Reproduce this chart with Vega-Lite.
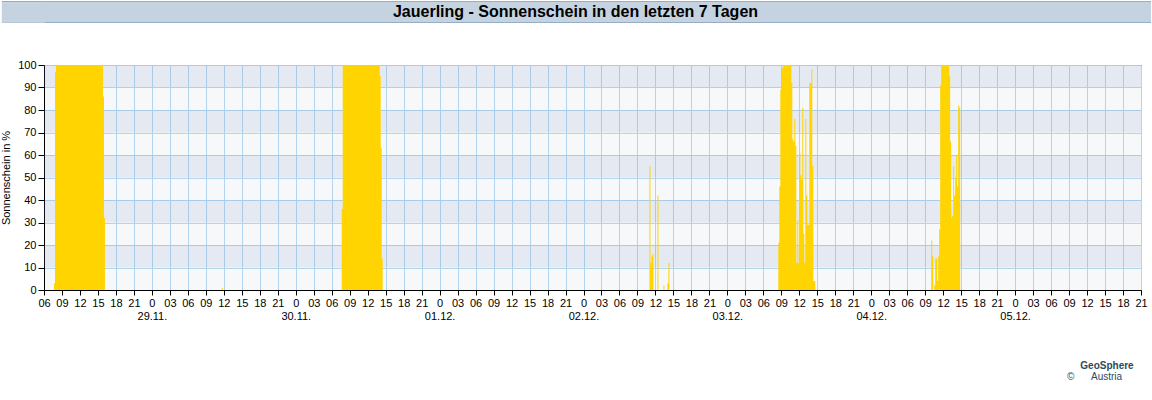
{
  "$schema": "https://vega.github.io/schema/vega-lite/v6.json",
  "padding": 0,
  "background": "white",
  "config": {"font": "Liberation Sans"},
  "spacing": 35,
  "vconcat": [
    {
      "width": 1107,
      "height": 21,
      "view": {"fill": "#c5d3e1", "stroke": null},
      "data": {"values": [{"label": "Jauerling - Sonnenschein in den letzten 7 Tagen"}]},
      "mark": {"type": "text", "fontSize": 16, "fontWeight": "bold", "color": "#000000", "baseline": "middle", "align": "center", "dx": -22},
      "encoding": {
        "text": {"field": "label", "type": "nominal"},
        "y": {"datum": 0.5, "type": "quantitative", "scale": {"domain": [0, 1], "nice": false, "zero": false},
          "axis": {"title": null, "values": [0.05, 0.15, 0.25, 0.35, 0.45, 0.55, 0.65, 0.75, 0.85, 0.95, 0, 1], "labels": false, "domain": false,
            "tickSize": 42.7, "tickRound": false, "tickOpacity": 1,
            "tickColor": {"condition": {"test": "datum.value == 0 || datum.value == 1", "value": "#97adc5"}, "value": "#c5d3e1"},
            "tickWidth": {"condition": {"test": "datum.value == 0 || datum.value == 1", "value": 1}, "value": 2.6},
            "grid": true, "gridOpacity": 1, "gridWidth": 1,
            "gridColor": {"condition": {"test": "datum.value == 0 || datum.value == 1", "value": "#97adc5"}, "value": "#c5d3e1"}}}
      }
    },
    {
      "width": 1097,
      "height": 225,
      "view": {"fill": "#f6f8fa", "stroke": "#000000", "strokeWidth": 1},
      "title": {
        "text": "GeoSphere",
        "subtitle": "©\u00a0\u00a0\u00a0\u00a0\u00a0\u00a0Austria\u00a0\u00a0\u00a0\u00a0\u00a0\u00a0\u00a0\u00a0\u00a0\u200b",
        "orient": "bottom",
        "anchor": "end",
        "frame": "group",
        "align": "center",
        "offset": 40,
        "dx": -34,
        "fontSize": 10,
        "fontWeight": "bold",
        "color": "#2c4a5a",
        "subtitleFontSize": 10,
        "subtitleColor": "#2c4a5a",
        "subtitlePadding": 1
      },
      "layer": [
        {
          "data": {"values": [{"lo":10,"hi":20},{"lo":30,"hi":40},{"lo":50,"hi":60},{"lo":70,"hi":80},{"lo":90,"hi":100}]},
          "mark": {"type": "rect", "color": "#6c86b8", "opacity": 0.12},
          "encoding": {
            "y": {"field": "lo", "type": "quantitative", "scale": {"domain": [0, 100], "nice": false},
              "axis": {"title": "Sonnenschein in %", "values": [0,10,20,30,40,50,60,70,80,90,100], "grid": true, "gridColor": "#b3d5ef", "gridOpacity": 1, "domainColor": "#000000", "tickColor": "#000000", "tickSize": 6, "labelFontSize": 11, "labelColor": "#000000", "labelPadding": 2, "titleFontSize": 11, "titleFontWeight": "normal", "titleColor": "#000000", "titlePadding": 6}},
            "y2": {"field": "hi"}
          }
        },
        {
          "data": {"values": [
          {"t":"2024-11-28T06:00Z","v":0},
          {"t":"2024-11-28T07:40Z","v":3},
          {"t":"2024-11-28T07:50Z","v":97},
          {"t":"2024-11-28T08:00Z","v":100},{"t":"2024-11-28T08:10Z","v":100},{"t":"2024-11-28T08:20Z","v":100},{"t":"2024-11-28T08:30Z","v":100},{"t":"2024-11-28T08:40Z","v":100},{"t":"2024-11-28T08:50Z","v":100},
          {"t":"2024-11-28T09:00Z","v":100},{"t":"2024-11-28T09:10Z","v":100},{"t":"2024-11-28T09:20Z","v":100},{"t":"2024-11-28T09:30Z","v":100},{"t":"2024-11-28T09:40Z","v":100},{"t":"2024-11-28T09:50Z","v":100},
          {"t":"2024-11-28T10:00Z","v":100},{"t":"2024-11-28T10:10Z","v":100},{"t":"2024-11-28T10:20Z","v":100},{"t":"2024-11-28T10:30Z","v":100},{"t":"2024-11-28T10:40Z","v":100},{"t":"2024-11-28T10:50Z","v":100},
          {"t":"2024-11-28T11:00Z","v":100},{"t":"2024-11-28T11:10Z","v":100},{"t":"2024-11-28T11:20Z","v":100},{"t":"2024-11-28T11:30Z","v":100},{"t":"2024-11-28T11:40Z","v":100},{"t":"2024-11-28T11:50Z","v":100},
          {"t":"2024-11-28T12:00Z","v":100},{"t":"2024-11-28T12:10Z","v":100},{"t":"2024-11-28T12:20Z","v":100},{"t":"2024-11-28T12:30Z","v":100},{"t":"2024-11-28T12:40Z","v":100},{"t":"2024-11-28T12:50Z","v":100},
          {"t":"2024-11-28T13:00Z","v":100},{"t":"2024-11-28T13:10Z","v":100},{"t":"2024-11-28T13:20Z","v":100},{"t":"2024-11-28T13:30Z","v":100},{"t":"2024-11-28T13:40Z","v":100},{"t":"2024-11-28T13:50Z","v":100},
          {"t":"2024-11-28T14:00Z","v":100},{"t":"2024-11-28T14:10Z","v":100},{"t":"2024-11-28T14:20Z","v":100},{"t":"2024-11-28T14:30Z","v":100},{"t":"2024-11-28T14:40Z","v":100},{"t":"2024-11-28T14:50Z","v":100},
          {"t":"2024-11-28T15:00Z","v":100},{"t":"2024-11-28T15:10Z","v":100},{"t":"2024-11-28T15:20Z","v":100},{"t":"2024-11-28T15:30Z","v":100},{"t":"2024-11-28T15:40Z","v":100},
          {"t":"2024-11-28T15:50Z","v":86},
          {"t":"2024-11-28T16:00Z","v":32},
          {"t":"2024-11-28T16:10Z","v":0},
          {"t":"2024-11-29T11:40Z","v":1},
          {"t":"2024-11-29T11:50Z","v":0},
          {"t":"2024-11-30T07:40Z","v":36},
          {"t":"2024-11-30T07:50Z","v":100},
          {"t":"2024-11-30T08:00Z","v":100},{"t":"2024-11-30T08:10Z","v":100},{"t":"2024-11-30T08:20Z","v":100},{"t":"2024-11-30T08:30Z","v":100},{"t":"2024-11-30T08:40Z","v":100},{"t":"2024-11-30T08:50Z","v":100},
          {"t":"2024-11-30T09:00Z","v":100},{"t":"2024-11-30T09:10Z","v":100},{"t":"2024-11-30T09:20Z","v":100},{"t":"2024-11-30T09:30Z","v":100},{"t":"2024-11-30T09:40Z","v":100},{"t":"2024-11-30T09:50Z","v":100},
          {"t":"2024-11-30T10:00Z","v":100},{"t":"2024-11-30T10:10Z","v":100},{"t":"2024-11-30T10:20Z","v":100},{"t":"2024-11-30T10:30Z","v":100},{"t":"2024-11-30T10:40Z","v":100},{"t":"2024-11-30T10:50Z","v":100},
          {"t":"2024-11-30T11:00Z","v":100},{"t":"2024-11-30T11:10Z","v":100},{"t":"2024-11-30T11:20Z","v":100},{"t":"2024-11-30T11:30Z","v":100},{"t":"2024-11-30T11:40Z","v":100},{"t":"2024-11-30T11:50Z","v":100},
          {"t":"2024-11-30T12:00Z","v":100},{"t":"2024-11-30T12:10Z","v":100},{"t":"2024-11-30T12:20Z","v":100},{"t":"2024-11-30T12:30Z","v":100},{"t":"2024-11-30T12:40Z","v":100},{"t":"2024-11-30T12:50Z","v":100},
          {"t":"2024-11-30T13:00Z","v":100},{"t":"2024-11-30T13:10Z","v":100},{"t":"2024-11-30T13:20Z","v":100},{"t":"2024-11-30T13:30Z","v":100},{"t":"2024-11-30T13:40Z","v":100},{"t":"2024-11-30T13:50Z","v":100},
          {"t":"2024-11-30T14:00Z","v":95},
          {"t":"2024-11-30T14:10Z","v":63},
          {"t":"2024-11-30T14:20Z","v":14},
          {"t":"2024-11-30T14:30Z","v":0},
          {"t":"2024-12-02T11:00Z","v":55},
          {"t":"2024-12-02T11:10Z","v":12},
          {"t":"2024-12-02T11:20Z","v":15},
          {"t":"2024-12-02T11:30Z","v":16},
          {"t":"2024-12-02T11:40Z","v":0},
          {"t":"2024-12-02T12:20Z","v":42},
          {"t":"2024-12-02T12:30Z","v":0},
          {"t":"2024-12-02T13:20Z","v":2},
          {"t":"2024-12-02T13:30Z","v":0},
          {"t":"2024-12-02T14:00Z","v":3},
          {"t":"2024-12-02T14:10Z","v":12},
          {"t":"2024-12-02T14:20Z","v":0},
          {"t":"2024-12-03T08:30Z","v":21},
          {"t":"2024-12-03T08:40Z","v":46},
          {"t":"2024-12-03T08:50Z","v":89},
          {"t":"2024-12-03T09:00Z","v":98},
          {"t":"2024-12-03T09:10Z","v":99},
          {"t":"2024-12-03T09:20Z","v":100},{"t":"2024-12-03T09:30Z","v":100},{"t":"2024-12-03T09:40Z","v":100},{"t":"2024-12-03T09:50Z","v":100},
          {"t":"2024-12-03T10:00Z","v":100},{"t":"2024-12-03T10:10Z","v":100},{"t":"2024-12-03T10:20Z","v":100},{"t":"2024-12-03T10:30Z","v":100},
          {"t":"2024-12-03T10:40Z","v":92},
          {"t":"2024-12-03T10:50Z","v":67},
          {"t":"2024-12-03T11:00Z","v":66},
          {"t":"2024-12-03T11:10Z","v":76},
          {"t":"2024-12-03T11:20Z","v":64},
          {"t":"2024-12-03T11:30Z","v":12},
          {"t":"2024-12-03T11:40Z","v":31},
          {"t":"2024-12-03T11:50Z","v":12},
          {"t":"2024-12-03T12:00Z","v":61},
          {"t":"2024-12-03T12:10Z","v":51},
          {"t":"2024-12-03T12:20Z","v":49},
          {"t":"2024-12-03T12:30Z","v":81},
          {"t":"2024-12-03T12:40Z","v":25},
          {"t":"2024-12-03T12:50Z","v":12},
          {"t":"2024-12-03T13:00Z","v":76},
          {"t":"2024-12-03T13:10Z","v":42},
          {"t":"2024-12-03T13:20Z","v":29},
          {"t":"2024-12-03T13:30Z","v":29},
          {"t":"2024-12-03T13:40Z","v":92},
          {"t":"2024-12-03T13:50Z","v":92},
          {"t":"2024-12-03T14:00Z","v":98},
          {"t":"2024-12-03T14:10Z","v":55},
          {"t":"2024-12-03T14:20Z","v":4},
          {"t":"2024-12-03T14:30Z","v":4},
          {"t":"2024-12-03T14:40Z","v":0},
          {"t":"2024-12-04T10:00Z","v":22},
          {"t":"2024-12-04T10:10Z","v":15},
          {"t":"2024-12-04T10:20Z","v":0},
          {"t":"2024-12-04T10:30Z","v":2},
          {"t":"2024-12-04T10:40Z","v":14},
          {"t":"2024-12-04T10:50Z","v":14},
          {"t":"2024-12-04T11:00Z","v":4},
          {"t":"2024-12-04T11:10Z","v":15},
          {"t":"2024-12-04T11:20Z","v":27},
          {"t":"2024-12-04T11:30Z","v":91},
          {"t":"2024-12-04T11:40Z","v":100},{"t":"2024-12-04T11:50Z","v":100},{"t":"2024-12-04T12:00Z","v":100},{"t":"2024-12-04T12:10Z","v":100},
          {"t":"2024-12-04T12:20Z","v":100},{"t":"2024-12-04T12:30Z","v":100},{"t":"2024-12-04T12:40Z","v":100},{"t":"2024-12-04T12:50Z","v":100},
          {"t":"2024-12-04T13:00Z","v":95},
          {"t":"2024-12-04T13:10Z","v":66},
          {"t":"2024-12-04T13:20Z","v":32},
          {"t":"2024-12-04T13:30Z","v":33},
          {"t":"2024-12-04T13:40Z","v":55},
          {"t":"2024-12-04T13:50Z","v":42},
          {"t":"2024-12-04T14:00Z","v":50},
          {"t":"2024-12-04T14:10Z","v":60},
          {"t":"2024-12-04T14:20Z","v":46},
          {"t":"2024-12-04T14:30Z","v":82},
          {"t":"2024-12-04T14:40Z","v":81},
          {"t":"2024-12-04T14:50Z","v":0},
          {"t":"2024-12-05T21:00Z","v":0}
          ]},
          "mark": {"type": "area", "interpolate": "step-after", "color": "#ffd400"},
          "encoding": {
            "x": {"field": "t", "type": "temporal",
              "scale": {"type": "utc", "domain": [1732773600000, 1733432400000], "nice": false},
              "axis": {"title": null, "values": [1732773600000,1732784400000,1732795200000,1732806000000,1732816800000,1732827600000,1732838400000,1732849200000,1732860000000,1732870800000,1732881600000,1732892400000,1732903200000,1732914000000,1732924800000,1732935600000,1732946400000,1732957200000,1732968000000,1732978800000,1732989600000,1733000400000,1733011200000,1733022000000,1733032800000,1733043600000,1733054400000,1733065200000,1733076000000,1733086800000,1733097600000,1733108400000,1733119200000,1733130000000,1733140800000,1733151600000,1733162400000,1733173200000,1733184000000,1733194800000,1733205600000,1733216400000,1733227200000,1733238000000,1733248800000,1733259600000,1733270400000,1733281200000,1733292000000,1733302800000,1733313600000,1733324400000,1733335200000,1733346000000,1733356800000,1733367600000,1733378400000,1733389200000,1733400000000,1733410800000,1733421600000,1733432400000],
                "grid": true, "gridColor": "#b3d5ef", "gridOpacity": 1, "domainColor": "#000000", "tickColor": "#000000", "tickSize": 5, "labelFontSize": 11, "labelColor": "#000000", "labelPadding": 2, "labelLineHeight": 13, "labelFlush": false, "labelOverlap": false, "labelBound": false, "labelAngle": 0, "labelAlign": "center", "labelBaseline": "top",
                "labelExpr": "utchours(datum.value) == 0 ? ['0', utcFormat(datum.value, '%d.%m.')] : utcFormat(datum.value, '%H')"}},
            "y": {"field": "v", "type": "quantitative", "scale": {"domain": [0, 100], "nice": false},
              "axis": {"title": "Sonnenschein in %", "values": [0,10,20,30,40,50,60,70,80,90,100], "grid": true, "gridColor": "#b3d5ef", "gridOpacity": 1, "domainColor": "#000000", "tickColor": "#000000", "tickSize": 6, "labelFontSize": 11, "labelColor": "#000000", "labelPadding": 2, "titleFontSize": 11, "titleFontWeight": "normal", "titleColor": "#000000", "titlePadding": 6}}
          }
        }
      ]
    }
  ]
}
